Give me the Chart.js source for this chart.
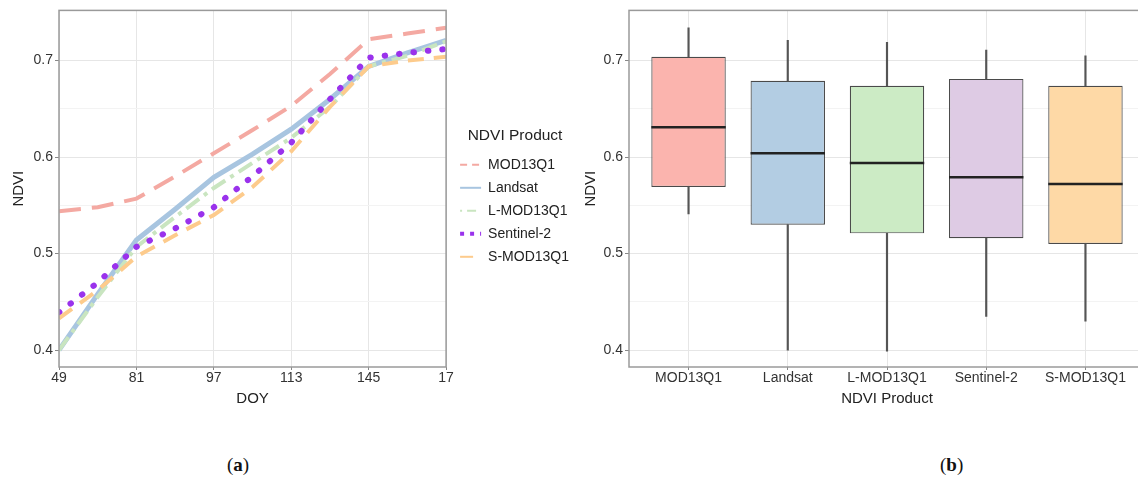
<!DOCTYPE html>
<html>
<head>
<meta charset="utf-8">
<script src="https://cdn.jsdelivr.net/npm/chart.js@4.4.1/dist/chart.umd.min.js"></script>
<style>
  html, body { margin: 0; padding: 0; background: #fff; overflow: hidden; width: 1138px; height: 484px; }
  #left { position: absolute; left: 0; top: 0; }
  #right { position: absolute; left: 578px; top: 0; }
  .cap { position: absolute; top: 454px; font-family: "Liberation Serif", serif; font-size: 19px; color: #111; }
</style>
</head>
<body>
<canvas id="left" width="600" height="420"></canvas>
<canvas id="right" width="572" height="420"></canvas>
<div class="cap" style="left:227px">(<b>a</b>)</div>
<div class="cap" style="left:940px">(<b>b</b>)</div>
<script>
// (a) NDVI time series, x positions are tick slots (49, 81, 97, 113, 145, 177)
const doyTicks = ['49', '81', '97', '113', '145', '17'];
const doyPos = [0, 0.5, 1, 1.5, 2, 2.5, 3, 3.5, 4, 4.5, 5];
const mod13q1 = [0.544, 0.548, 0.557, 0.580, 0.604, 0.628, 0.653, 0.686, 0.722, 0.728, 0.734];
const landsat = [0.400, 0.458, 0.514, 0.546, 0.579, 0.603, 0.629, 0.660, 0.694, 0.708, 0.721];
const lMod13q1 = [0.400, 0.455, 0.507, 0.538, 0.568, 0.594, 0.620, 0.652, 0.694, 0.705, 0.720];
const sentinel2 = [0.439, 0.470, 0.507, 0.526, 0.548, 0.580, 0.615, 0.660, 0.703, 0.708, 0.712];
const sMod13q1 = [0.433, 0.462, 0.497, 0.519, 0.540, 0.569, 0.606, 0.652, 0.694, 0.700, 0.704];

// (b) boxplot stats per product
const products = ['MOD13Q1', 'Landsat', 'L-MOD13Q1', 'Sentinel-2', 'S-MOD13Q1'];
const boxMin = [0.541, 0.400, 0.399, 0.435, 0.430];
const boxQ1 = [0.569, 0.530, 0.521, 0.516, 0.510];
const boxMedian = [0.631, 0.604, 0.594, 0.579, 0.572];
const boxQ3 = [0.704, 0.679, 0.674, 0.681, 0.674];
const boxMax = [0.734, 0.721, 0.719, 0.711, 0.705];

const yTicks = [0.4, 0.45, 0.5, 0.55, 0.6, 0.65, 0.7];

Chart.defaults.font.family = '"Liberation Sans", Arial, sans-serif';
Chart.defaults.animation = false;

const isMajor = v => Math.abs(v * 10 - Math.round(v * 10)) < 1e-6;

function yAxis(width, titlePad) {
  return {
    min: 0.3825,
    max: 0.752,
    afterBuildTicks: s => { s.ticks = yTicks.map(v => ({ value: v })); },
    afterFit: s => { s.width = width; },
    ticks: {
      color: '#333',
      font: { size: 14 },
      padding: 2,
      callback: v => isMajor(v) ? v.toFixed(1) : ''
    },
    grid: {
      color: c => isMajor(c.tick.value) ? '#e6e6e6' : '#f3f3f3',
      tickLength: 4,
      tickColor: c => isMajor(c.tick.value) ? '#888' : 'rgba(0,0,0,0)'
    },
    border: { display: false },
    title: { display: true, text: 'NDVI', color: '#222', font: { size: 15 }, padding: { top: titlePad, bottom: 0 } }
  };
}

function xAxis(min, max, labels, title) {
  return {
    type: 'linear',
    min: min,
    max: max,
    offset: false,
    afterBuildTicks: s => { s.ticks = labels.map((t, i) => ({ value: i })); },
    afterFit: s => { s.height = 43; },
    ticks: { color: '#333', font: { size: 14 }, padding: 0, maxRotation: 0, callback: (v, i) => labels[i] },
    grid: { offset: false, color: '#e6e6e6', tickLength: 3, tickColor: '#888' },
    border: { display: false },
    title: { display: true, text: title, color: '#222', font: { size: 15 }, padding: { top: 0, bottom: 2 } }
  };
}

// grey frame round the panel
const panelBorder = {
  id: 'panelBorder',
  afterDraw(chart) {
    const a = chart.chartArea, ctx = chart.ctx;
    ctx.save();
    ctx.strokeStyle = '#9a9a9a';
    ctx.lineWidth = 1.5;
    ctx.strokeRect(a.left, a.top, a.right - a.left, a.bottom - a.top);
    ctx.restore();
  }
};

// nudge the legend a little away from the panel and upwards
const legendNudge = {
  id: 'legendNudge',
  afterLayout(chart) {
    const lg = chart.legend;
    lg.left += 5; lg.right += 5;
    lg.top -= 9; lg.bottom -= 9;
  }
};

const lineColors = ['#F4A9A2', '#A8C5E0', '#C9E5C0', '#9A32EC', '#FDCB8C'];
const legendDash = [[7, 5], [], [2, 5, 9, 5], [4, 6], [13, 20]];
const legendWidth = [2, 2, 2, 4, 2];

const pts = arr => arr.map((v, i) => ({ x: doyPos[i], y: v }));

new Chart(document.getElementById('left'), {
  type: 'line',
  data: {
    datasets: [
      { label: 'MOD13Q1', data: pts(mod13q1), borderColor: lineColors[0], borderWidth: 4, borderDash: [22, 11], order: 5 },
      { label: 'Landsat', data: pts(landsat), borderColor: lineColors[1], borderWidth: 5, order: 4 },
      { label: 'L-MOD13Q1', data: pts(lMod13q1), borderColor: lineColors[2], borderWidth: 4, borderDash: [16, 6, 4, 6], order: 3 },
      { label: 'Sentinel-2', data: pts(sentinel2), borderColor: lineColors[3], borderWidth: 6, borderDash: [0.5, 14], borderCapStyle: 'round', order: 2 },
      { label: 'S-MOD13Q1', data: pts(sMod13q1), borderColor: lineColors[4], borderWidth: 4, borderDash: [16, 10], order: 1 }
    ]
  },
  options: {
    responsive: false,
    layout: { padding: { top: 9, right: 26, bottom: 10, left: 0 } },
    elements: { point: { radius: 0 }, line: { tension: 0, fill: false } },
    scales: {
      x: xAxis(0, 5, doyTicks, 'DOY'),
      y: yAxis(59, 10)
    },
    plugins: {
      tooltip: { enabled: false },
      legend: {
        position: 'right',
        title: { display: true, text: 'NDVI Product', color: '#222', font: { size: 15.5 }, position: 'center', padding: { top: 0, bottom: 2 } },
        labels: {
          usePointStyle: true,
          pointStyle: 'line',
          pointStyleWidth: 21,
          padding: 9,
          color: '#222',
          font: { size: 14 },
          sort: (a, b) => a.datasetIndex - b.datasetIndex,
          generateLabels: chart => Chart.defaults.plugins.legend.labels.generateLabels(chart).map(it => ({
            ...it,
            lineWidth: legendWidth[it.datasetIndex],
            lineDash: legendDash[it.datasetIndex],
            lineCap: 'butt'
          }))
        }
      }
    }
  },
  plugins: [panelBorder, legendNudge]
});

// median bar across each box
const medianLines = {
  id: 'medianLines',
  afterDatasetsDraw(chart) {
    const meta = chart.getDatasetMeta(2), ys = chart.scales.y, ctx = chart.ctx;
    ctx.save();
    ctx.strokeStyle = '#222';
    ctx.lineWidth = 2.5;
    meta.data.forEach((bar, i) => {
      const y = ys.getPixelForValue(boxMedian[i]);
      ctx.beginPath();
      ctx.moveTo(bar.x - bar.width / 2, y);
      ctx.lineTo(bar.x + bar.width / 2, y);
      ctx.stroke();
    });
    ctx.restore();
  }
};

const boxFill = ['#FBB4AE', '#B3CDE3', '#CCEBC5', '#DECBE4', '#FED9A6'];

new Chart(document.getElementById('right'), {
  type: 'bar',
  data: {
    datasets: [
      { label: 'low', data: products.map((p, i) => ({ x: i, y: [boxMin[i], boxQ1[i]] })), backgroundColor: '#555', barThickness: 1.5, grouped: false },
      { label: 'high', data: products.map((p, i) => ({ x: i, y: [boxQ3[i], boxMax[i]] })), backgroundColor: '#555', barThickness: 1.5, grouped: false },
      { label: 'box', data: products.map((p, i) => ({ x: i, y: [boxQ1[i], boxQ3[i]] })), backgroundColor: boxFill, borderColor: '#4a4a4a', borderWidth: 1.2, borderSkipped: false, categoryPercentage: 1, barPercentage: 0.75, grouped: false }
    ]
  },
  options: {
    responsive: false,
    layout: { padding: { top: 9, right: 5, bottom: 10, left: 0 } },
    scales: {
      x: xAxis(-0.6, 4.6, products, 'NDVI Product'),
      y: yAxis(51, 4)
    },
    plugins: { tooltip: { enabled: false }, legend: { display: false } }
  },
  plugins: [medianLines, panelBorder]
});
</script>
</body>
</html>
